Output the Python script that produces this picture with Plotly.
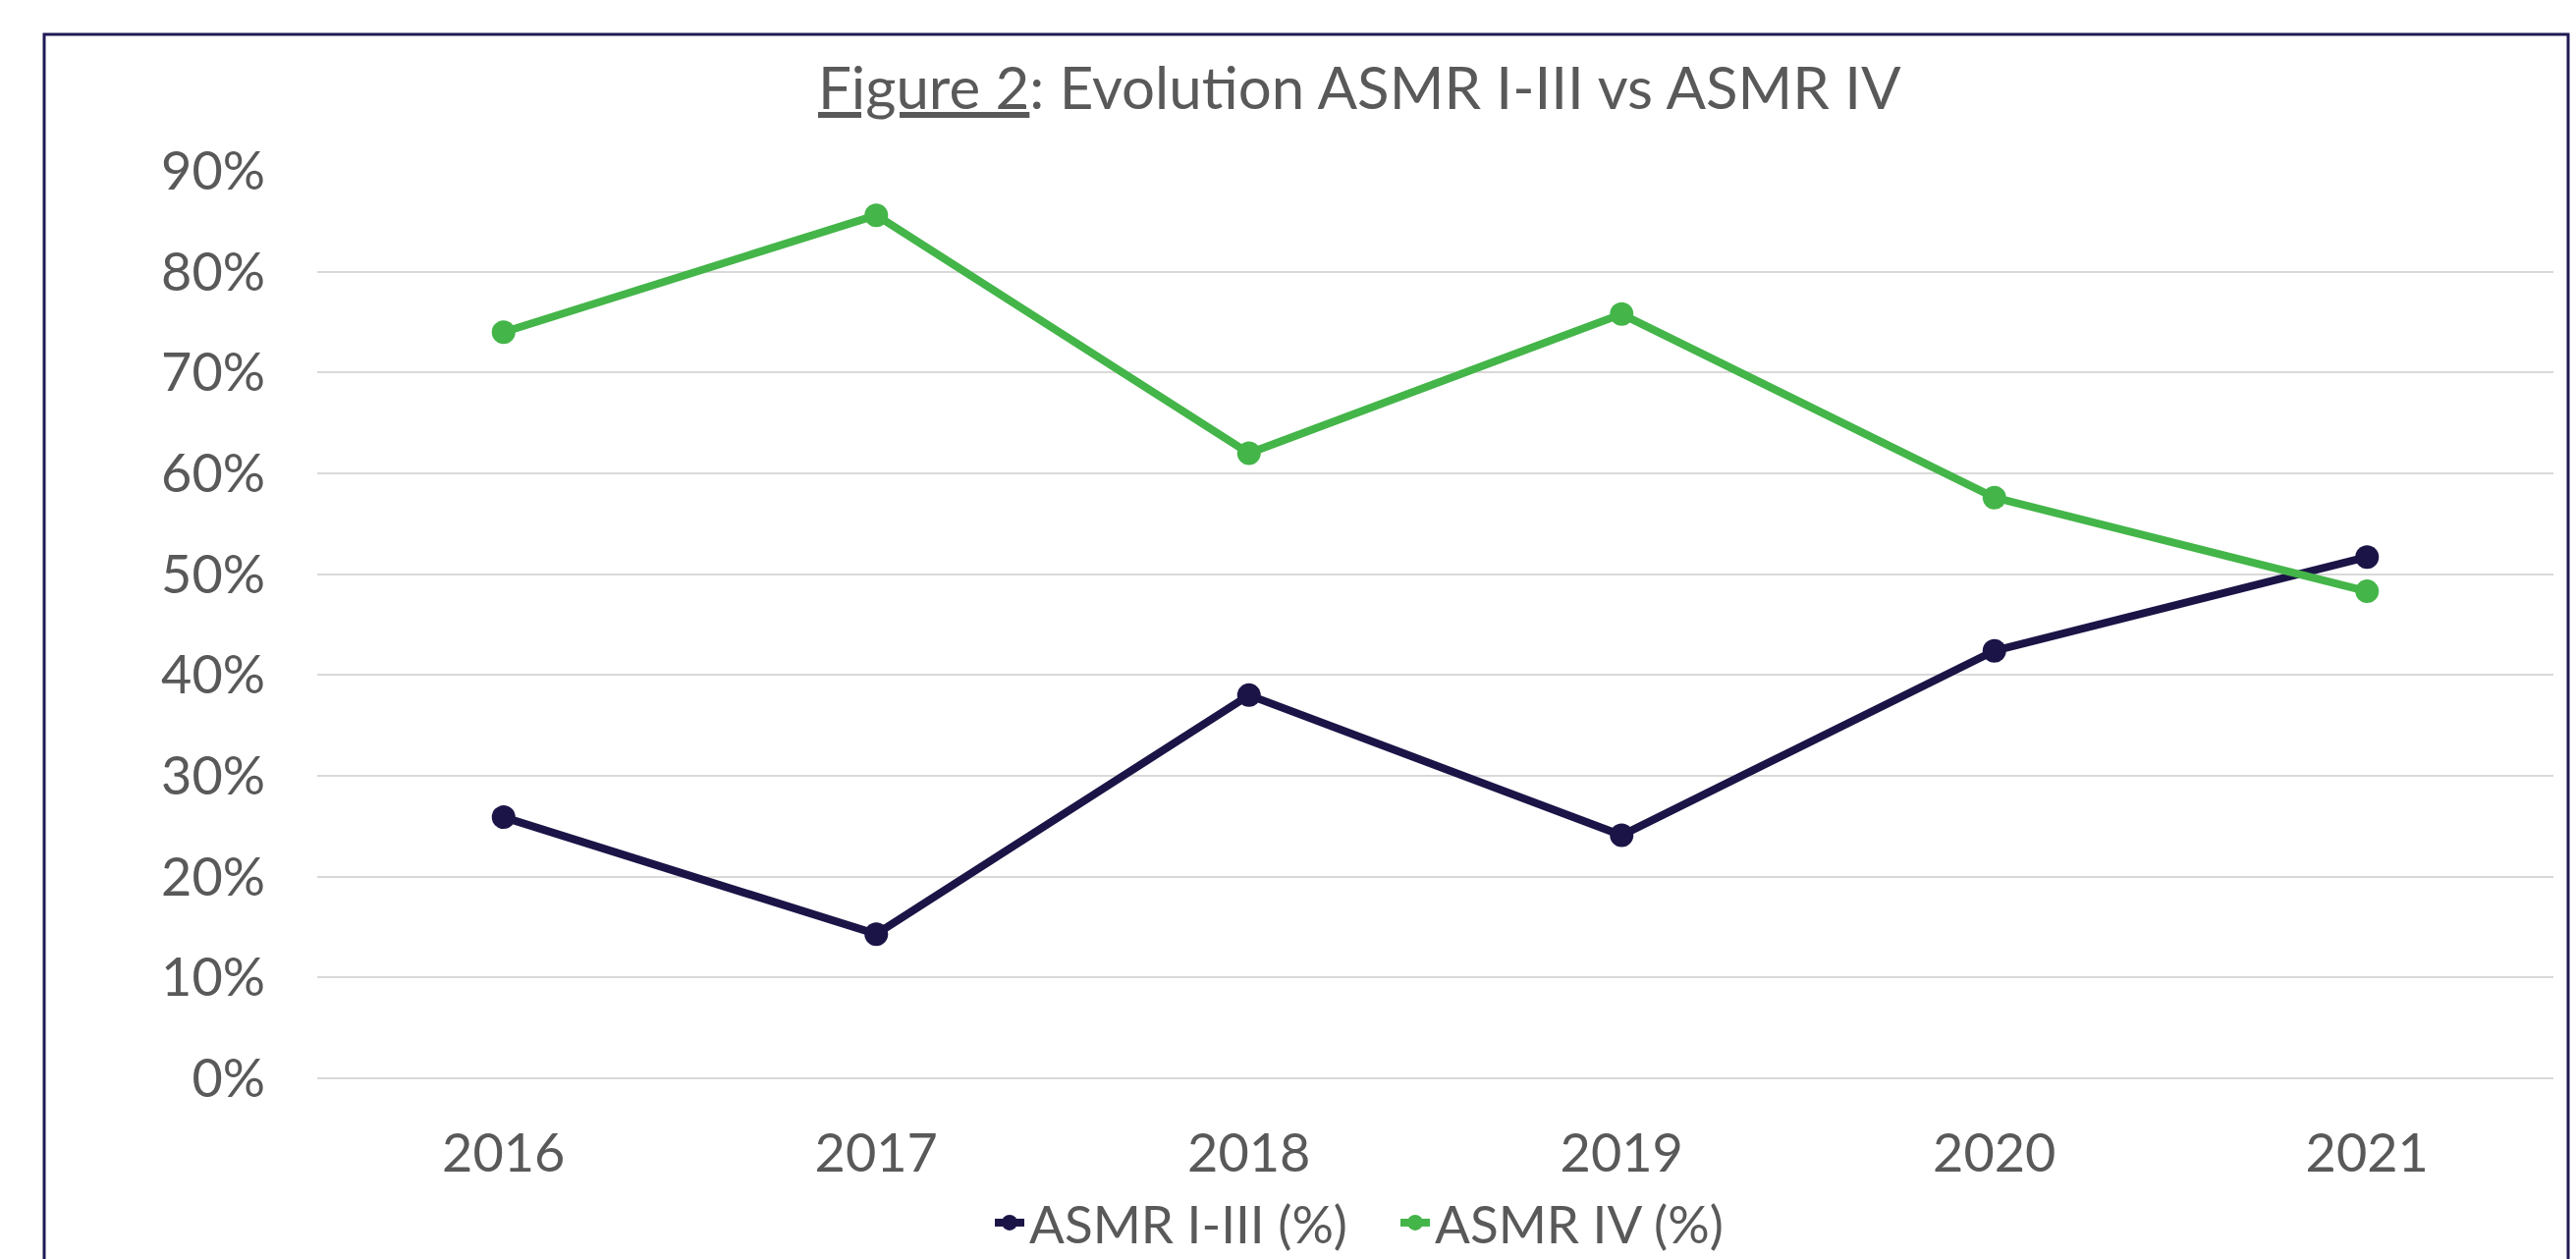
import plotly.graph_objects as go

years = ["2016", "2017", "2018", "2019", "2020", "2021"]
asmr_1_3 = [0.259, 0.143, 0.380, 0.241, 0.424, 0.517]
asmr_4 = [0.740, 0.856, 0.620, 0.758, 0.576, 0.483]
series_names = ["ASMR I-III (%)", "ASMR IV (%)"]
title_text = "<u>Figure 2</u>: Evolution ASMR I-III vs ASMR IV"

NAVY = "#1b1446"
GREEN = "#44b549"
TEXT = "#595959"
FONT = "Lato, Carlito, Calibri, sans-serif"

W, H = 2623, 1282
L, R, T, B = 323, 23, 174, 184
PW, PH = W - L - R, H - T - B


def px_x(x):
    return (x - L) / PW


def px_y(y):
    return (H - B - y) / PH


fig = go.Figure()
fig.add_trace(go.Scatter(x=years, y=asmr_1_3, name=series_names[0], mode="lines+markers",
                         line=dict(color=NAVY, width=8), marker=dict(color=NAVY, size=24)))
fig.add_trace(go.Scatter(x=years, y=asmr_4, name=series_names[1], mode="lines+markers",
                         line=dict(color=GREEN, width=8), marker=dict(color=GREEN, size=24)))

fig.update_layout(
    width=W, height=H,
    margin=dict(l=L, r=R, t=T, b=B, autoexpand=False),
    paper_bgcolor="white", plot_bgcolor="white",
    font=dict(family=FONT, color=TEXT, size=54),
    showlegend=True,
    legend=dict(orientation="h", x=px_x(1421), xanchor="center", y=px_y(1245), yanchor="middle",
                font=dict(size=53, color=TEXT), itemwidth=30, traceorder="normal",
                entrywidth=368, entrywidthmode="pixels",
                bgcolor="rgba(0,0,0,0)"),
    xaxis=dict(type="category", range=[-0.5, 5.5], showgrid=False, showline=False, zeroline=False,
               ticks="", tickfont=dict(size=54, color=TEXT), ticklabelstandoff=40),
    yaxis=dict(range=[0, 0.9], dtick=0.1, tick0=0, tickformat=".0%", showgrid=True,
               gridcolor="#d9d9d9", gridwidth=2, zeroline=True, zerolinecolor="#d9d9d9",
               zerolinewidth=2, showline=False, ticks="",
               tickfont=dict(size=54, color=TEXT), ticklabelstandoff=52),
    annotations=[dict(text=title_text, x=px_x(1384.5), y=px_y(88), xref="paper", yref="paper",
                      xanchor="center", yanchor="middle", showarrow=False,
                      font=dict(family=FONT, size=60, color=TEXT))],
    shapes=[dict(type="rect", xref="paper", yref="paper",
                 x0=px_x(45), x1=px_x(2615), y0=px_y(1400), y1=px_y(35),
                 line=dict(color="#1f1a55", width=3), fillcolor="rgba(0,0,0,0)", layer="above")],
)

fig.write_html("out.html", config={"displayModeBar": False},
               post_script="document.body.style.margin='0px';")
